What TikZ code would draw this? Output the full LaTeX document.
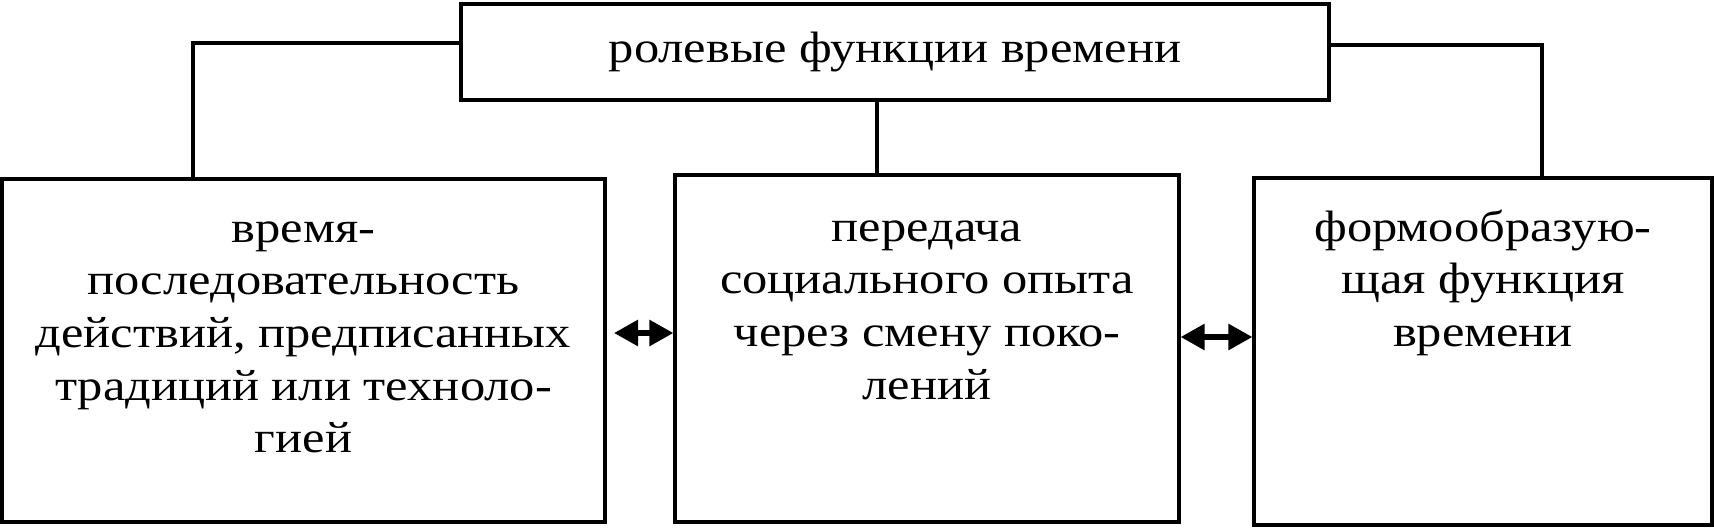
\documentclass[tikz,border=0pt]{standalone}
\usepackage{fontspec}
\setmainfont{Liberation Serif}[FakeStretch=1.15]
\usetikzlibrary{positioning,arrows.meta}

\begin{document}
\begin{tikzpicture}[
  box/.style={draw, line width=0.9pt, inner sep=0pt},
  boxtext/.style={font=\fontsize{12.5}{15}\selectfont, align=center, inner sep=0pt},
  link/.style={line width=0.9pt},
  arrow/.style={{Triangle[length=0.24cm,width=0.25cm]}-{Triangle[length=0.24cm,width=0.25cm]},
    line width=1.6pt}
]
\useasboundingbox (0,0) rectangle (17.14,5.27);

% Boxes
\node[box, boxtext, minimum width=8.68cm, minimum height=0.96cm] (top) at (8.95,4.75)
  {ролевые функции времени};
\node[box, minimum width=6.03cm, minimum height=3.43cm] (left) at (3.035,1.765) {};
\node[box, minimum width=5.04cm, minimum height=3.47cm] (mid) at (9.27,1.785) {};
\node[box, minimum width=4.58cm, minimum height=3.47cm] (right) at (14.83,1.755) {};

% Texts in the boxes
\node[boxtext, below=0.27cm of left.north] (lefttext)
  {\strut время-\\последовательность\\действий, предписанных\\традиций или техноло-\\гией};
\node[boxtext, below=0.30cm of mid.north] (midtext)
  {\strut передача\\социального опыта\\через смену поко-\\лений};
\node[boxtext, below=0.27cm of right.north] (righttext)
  {\strut формообразую-\\щая функция\\времени};

% Links from the top box
\coordinate (lknee) at (1.93,4.84);
\coordinate (rknee) at (15.42,4.82);
\coordinate (mline) at (8.77,0);
\draw[link] (top.west |- lknee) -- (lknee) -- (lknee |- left.north);
\draw[link] (top.east |- rknee) -- (rknee) -- (rknee |- right.north);
\draw[link] (mline |- top.south) -- (mline |- mid.north);

% Two-way arrows
\coordinate (larr) at (6.14,1.94);
\coordinate (rarr) at (11.77,1.90);
\draw[arrow] (larr) -- (mid.west |- larr);
\draw[arrow] (mid.east |- rarr) -- (right.west |- rarr);

\end{tikzpicture}
\end{document}
